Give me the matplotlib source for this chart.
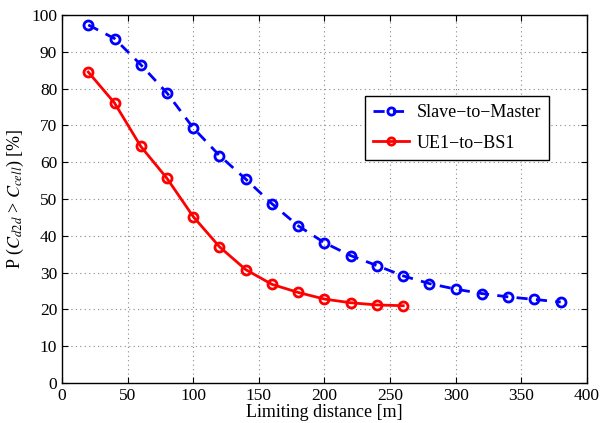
import matplotlib
matplotlib.use("Agg")
import matplotlib.pyplot as plt

plt.rcParams['font.family'] = ['Liberation Serif', 'DejaVu Serif']
plt.rcParams['mathtext.fontset'] = 'stix'

x_blue = [20, 40, 60, 80, 100, 120, 140, 160, 180, 200, 220, 240, 260, 280, 300, 320, 340, 360, 380]
y_blue = [97.3, 93.6, 86.5, 78.8, 69.3, 61.8, 55.4, 48.7, 42.7, 38.1, 34.6, 31.9, 29.1, 27.0, 25.5, 24.3, 23.4, 22.7, 22.0]
x_red = [20, 40, 60, 80, 100, 120, 140, 160, 180, 200, 220, 240, 260]
y_red = [84.5, 76.1, 64.3, 55.6, 45.2, 37.0, 30.8, 26.8, 24.6, 22.8, 21.8, 21.2, 21.0]

fig = plt.figure(figsize=(6.02, 4.23), dpi=100)
ax = fig.add_axes([0.103, 0.0946, 0.872, 0.87])

ax.plot(x_blue, y_blue, '--o', color='#0000ff', lw=2, ms=6.5, mfc='none', mew=2,
        dashes=(4, 3), label='Slave\u2212to\u2212Master')
ax.plot(x_red, y_red, '-o', color='#ff0000', lw=2, ms=6.5, mfc='none', mew=2,
        label='UE1\u2212to\u2212BS1')

ax.set_xlim(0, 400)
ax.set_ylim(0, 100)
ax.set_xticks(range(0, 401, 50))
ax.set_yticks(range(0, 101, 10))
ax.tick_params(direction='in', top=True, right=True, labelsize=12.5, length=4)
ax.grid(True, linestyle=(0, (1, 3)), color='#888888', linewidth=0.8)
for s in ax.spines.values():
    s.set_linewidth(1.0)

ax.set_xlabel('Limiting distance [m]', fontsize=13, labelpad=0)
ax.set_ylabel(r'P ($C_{d2d}$ > $C_{cell}$) [%]', fontsize=13, labelpad=4)

leg = ax.legend(loc='upper right', bbox_to_anchor=(0.928, 0.780), fontsize=13,
                fancybox=False, edgecolor='black', framealpha=1, handlelength=2.0,
                borderpad=0.45, labelspacing=0.75, handletextpad=0.4, borderaxespad=0,
                markerscale=0.8)
leg.get_frame().set_linewidth(1.0)

fig.savefig('out.png', dpi=100)
